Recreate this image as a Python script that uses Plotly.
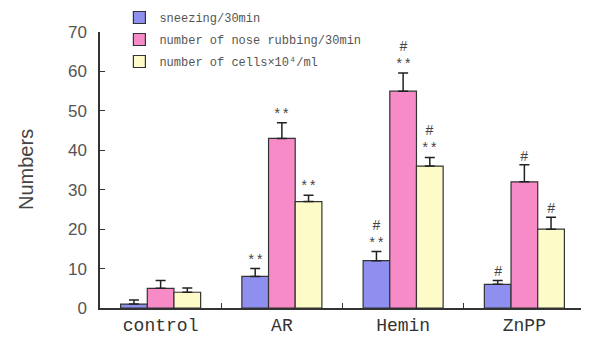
import plotly.graph_objects as go

categories = ["control", "AR", "Hemin", "ZnPP"]
series_names = ["sneezing/30min", "number of nose rubbing/30min", "number of cells×10⁴/ml"]
sneezing = [1, 8, 12, 6]
sneezing_err = [1, 2, 2.3, 1]
rubbing = [5, 43, 55, 32]
rubbing_err = [2, 4, 4.6, 4.3]
cells = [4, 27, 36, 20]
cells_err = [1.1, 1.6, 2.2, 3]
sneezing_marks = ["", "**", "#<br>**", "#"]
rubbing_marks = ["", "**", "#<br>**", "#"]
cells_marks = ["", "**", "#<br>**", "#"]
y_ticks = [0, 10, 20, 30, 40, 50, 60, 70]
y_title = "Numbers"

colors = ["#8f8ff0", "#f78bc7", "#fdfcc9"]
values = [sneezing, rubbing, cells]
errors = [sneezing_err, rubbing_err, cells_err]
marks = [sneezing_marks, rubbing_marks, cells_marks]

fig = go.Figure()
for i in range(3):
    fig.add_trace(go.Bar(
        x=categories, y=values[i], name=series_names[i],
        marker=dict(color=colors[i], line=dict(color="#333333", width=1.2)),
        error_y=dict(type="data", array=errors[i], arrayminus=[0]*4, symmetric=False,
                     color="#222222", thickness=1.5, width=5),
        legendgroup=str(i),
    ))

plot_w = 485
cat_w = plot_w / 4
bargap = 0.34
bar_w = cat_w * (1 - bargap) / 3
annotations = []
for i in range(3):
    for j, c in enumerate(categories):
        if marks[i][j]:
            annotations.append(dict(
                x=c, y=values[i][j] + errors[i][j], xref="x", yref="y",
                text=marks[i][j], showarrow=False, yanchor="bottom",
                xshift=(i - 1) * bar_w, yshift=-2,
                font=dict(family="Liberation Mono", size=14, color="#444444"),
            ))
annotations.append(dict(
    x=0, y=0.5, xref="paper", yref="paper", text=y_title, showarrow=False,
    textangle=-90, xanchor="center", yanchor="middle", xshift=-74,
    font=dict(family="Liberation Sans", size=20, color="#444444"),
))

# page body has an 8px default margin; figure sized so it fills the 589x342 window
fig.update_layout(
    width=581, height=334,
    margin=dict(l=92, r=4, t=24, b=34, autoexpand=False),
    paper_bgcolor="white", plot_bgcolor="white",
    barmode="group", bargap=bargap, bargroupgap=0,
    showlegend=True,
    legend=dict(x=0.04, y=1.105, xanchor="left", yanchor="top",
                font=dict(family="Liberation Mono", size=12, color="#555555"),
                bgcolor="rgba(0,0,0,0)", tracegroupgap=3, traceorder="grouped",
                itemwidth=30),
    annotations=annotations,
    xaxis=dict(range=[-0.5, 3.5], showline=True, linecolor="#333333", linewidth=1.5,
               ticks="inside", tickson="boundaries", ticklen=5, tickcolor="#333333",
               tickfont=dict(family="Liberation Mono", size=18, color="#333333"),
               showgrid=False, zeroline=False, automargin=False),
    yaxis=dict(range=[0, 70], tickvals=y_ticks, showline=True, linecolor="#333333",
               linewidth=1.5, ticks="inside", ticklen=5, tickcolor="#333333",
               tickfont=dict(family="Liberation Sans", size=17, color="#555555"),
               ticklabelstandoff=8, showgrid=False, zeroline=False, automargin=False),
)

fig.write_html("out.html")
